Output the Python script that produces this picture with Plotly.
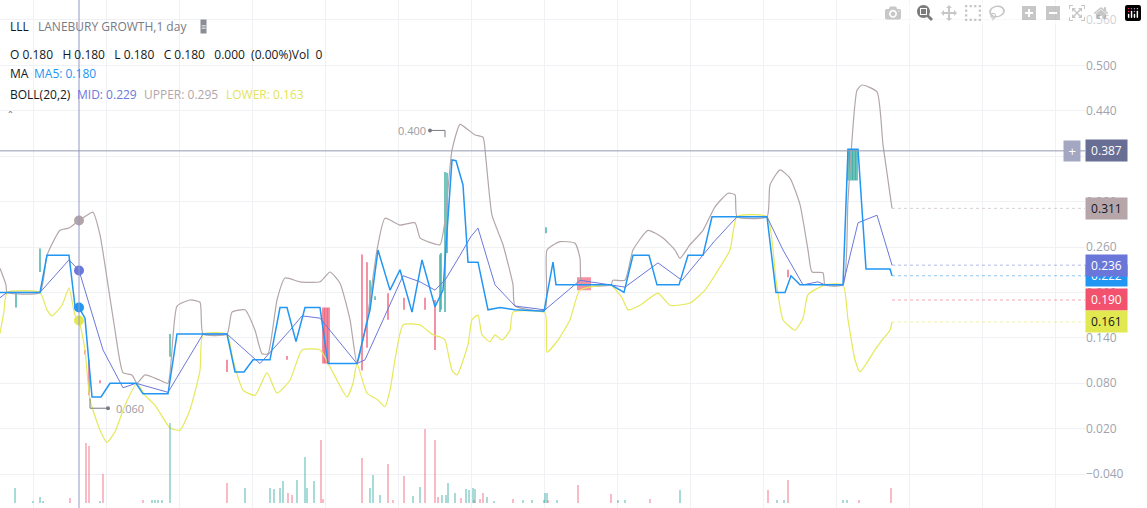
import plotly.graph_objects as go

# bar position (day slot) and indicator values
ma5_t = [0, 7, 40, 47, 69, 75, 79, 85, 92, 101, 110, 136, 143, 168, 177, 203, 227, 235, 244, 253, 270, 280, 287,
         296, 305, 320, 328, 357, 370, 378, 390, 400, 412, 422, 435, 443, 452, 456, 463, 468, 478, 488, 500, 515,
         544, 553, 556, 580, 611, 624, 633, 649, 657, 679, 688, 703, 712, 737, 767, 776, 785, 791, 800, 825, 843,
         848, 858, 866, 890, 892]
ma5_v = [0.200, 0.200, 0.200, 0.249, 0.249, 0.182, 0.180, 0.166, 0.062, 0.062, 0.080, 0.080, 0.066, 0.066, 0.145,
         0.145, 0.145, 0.095, 0.095, 0.111, 0.111, 0.180, 0.180, 0.135, 0.180, 0.180, 0.106, 0.106, 0.177, 0.256,
         0.203, 0.230, 0.174, 0.243, 0.181, 0.203, 0.375, 0.374, 0.342, 0.240, 0.240, 0.177, 0.180, 0.177, 0.175,
         0.240, 0.210, 0.210, 0.210, 0.200, 0.249, 0.249, 0.210, 0.210, 0.249, 0.249, 0.300, 0.300, 0.300, 0.200,
         0.200, 0.222, 0.210, 0.210, 0.210, 0.389, 0.389, 0.231, 0.231, 0.222]

mid_t = [0, 7, 40, 69, 79, 85, 103, 123, 136, 168, 203, 227, 250, 260, 290, 302, 320, 357, 365, 385, 403, 420, 435,
         443, 445, 460, 471, 478, 495, 515, 545, 580, 611, 625, 658, 682, 714, 737, 767, 783, 803, 818, 825, 843,
         858, 877, 892]
mid_v = [0.193, 0.200, 0.200, 0.243, 0.229, 0.203, 0.124, 0.074, 0.080, 0.068, 0.145, 0.145, 0.118, 0.106, 0.150,
         0.169, 0.166, 0.106, 0.111, 0.170, 0.222, 0.214, 0.203, 0.214, 0.216, 0.249, 0.274, 0.285, 0.210, 0.182,
         0.177, 0.216, 0.210, 0.207, 0.239, 0.216, 0.267, 0.300, 0.300, 0.256, 0.210, 0.214, 0.210, 0.210, 0.292,
         0.302, 0.236]

upper_t = [0, 6, 7, 40, 47, 60, 69, 79, 87, 93, 100, 105, 115, 123, 132, 137, 145, 160, 168, 177, 190, 200, 203,
           227, 232, 245, 255, 262, 268, 277, 285, 300, 320, 330, 340, 350, 357, 367, 377, 385, 400, 415, 420, 428,
           440, 445, 452, 460, 469, 475, 483, 486, 492, 503, 513, 515, 545, 547, 560, 575, 580, 582, 611, 613, 625,
           633, 648, 663, 675, 680, 690, 703, 715, 728, 735, 737, 767, 770, 780, 790, 800, 808, 812, 823, 825, 843,
           848, 857, 862, 877, 883, 892]
upper_v = [0.232, 0.210, 0.200, 0.200, 0.249, 0.282, 0.285, 0.295, 0.302, 0.306, 0.276, 0.236, 0.150, 0.094, 0.091,
           0.080, 0.091, 0.084, 0.080, 0.182, 0.190, 0.187, 0.145, 0.145, 0.174, 0.177, 0.150, 0.119, 0.119, 0.190,
           0.219, 0.214, 0.214, 0.227, 0.212, 0.164, 0.106, 0.164, 0.256, 0.298, 0.289, 0.292, 0.272, 0.267, 0.263,
           0.295, 0.388, 0.422, 0.414, 0.408, 0.405, 0.375, 0.302, 0.263, 0.210, 0.182, 0.177, 0.256, 0.267, 0.265,
           0.245, 0.210, 0.210, 0.216, 0.216, 0.256, 0.282, 0.272, 0.256, 0.245, 0.263, 0.282, 0.313, 0.331, 0.329,
           0.300, 0.300, 0.342, 0.362, 0.351, 0.316, 0.256, 0.227, 0.226, 0.210, 0.210, 0.322, 0.467, 0.474, 0.465,
           0.395, 0.311]

lower_t = [0, 4, 7, 40, 47, 52, 62, 69, 75, 79, 85, 90, 100, 107, 115, 125, 137, 145, 155, 170, 180, 190, 200, 203,
           227, 233, 243, 255, 267, 277, 290, 302, 320, 333, 347, 353, 357, 367, 378, 385, 390, 403, 420, 433, 440,
           445, 452, 457, 468, 472, 478, 482, 490, 495, 502, 510, 513, 545, 547, 558, 570, 580, 611, 616, 622, 628,
           640, 658, 670, 690, 705, 715, 730, 737, 767, 776, 783, 795, 803, 808, 825, 843, 848, 855, 860, 875, 882,
           890, 892]
lower_v = [0.146, 0.175, 0.200, 0.200, 0.177, 0.169, 0.183, 0.206, 0.170, 0.163, 0.124, 0.058, 0.018, 0.002, 0.016,
           0.051, 0.080, 0.064, 0.051, 0.021, 0.018, 0.045, 0.097, 0.145, 0.145, 0.111, 0.071, 0.064, 0.094, 0.067,
           0.084, 0.124, 0.124, 0.094, 0.062, 0.080, 0.106, 0.067, 0.058, 0.049, 0.071, 0.157, 0.157, 0.144, 0.141,
           0.137, 0.097, 0.091, 0.131, 0.164, 0.170, 0.144, 0.135, 0.144, 0.137, 0.150, 0.174, 0.173, 0.121, 0.137,
           0.164, 0.203, 0.210, 0.203, 0.193, 0.177, 0.183, 0.199, 0.183, 0.186, 0.203, 0.223, 0.256, 0.300, 0.300,
           0.216, 0.164, 0.150, 0.166, 0.197, 0.210, 0.210, 0.164, 0.111, 0.095, 0.124, 0.137, 0.150, 0.161]

# traded bars: slot, high, low, up/down
bar_t = [16, 40, 85, 89, 100, 170, 227, 287, 323, 324.5, 326, 327.5, 329, 362, 367, 370, 375, 388, 404, 425, 435,
         440, 441, 445, 447, 546, 578, 580, 582, 584, 586, 588, 590, 788, 848, 849.5, 851, 852.5, 854, 855.5, 857]
bar_hi = [0.199, 0.258, 0.124, 0.111, 0.084, 0.145, 0.111, 0.116, 0.180, 0.180, 0.180, 0.180, 0.180, 0.250, 0.240,
          0.216, 0.195, 0.199, 0.193, 0.193, 0.190, 0.250, 0.252, 0.359, 0.358, 0.286, 0.220, 0.220, 0.220, 0.220,
          0.220, 0.220, 0.220, 0.230, 0.389, 0.389, 0.389, 0.389, 0.389, 0.389, 0.389]
bar_lo = [0.180, 0.227, 0.118, 0.064, 0.080, 0.115, 0.095, 0.111, 0.106, 0.106, 0.106, 0.106, 0.106, 0.097, 0.127,
          0.177, 0.190, 0.164, 0.177, 0.177, 0.124, 0.174, 0.177, 0.174, 0.252, 0.278, 0.203, 0.203, 0.203, 0.203,
          0.203, 0.203, 0.203, 0.220, 0.348, 0.348, 0.348, 0.348, 0.348, 0.348, 0.348]
bar_up = [1, 1, 0, 0, 0, 1, 0, 0, 0, 0, 0, 0, 0, 0, 0, 1, 1, 0, 0, 0, 0, 1, 1, 1, 1, 1, 0, 0, 0, 0, 0, 0, 0, 0, 1, 1,
          1, 1, 1, 1, 1]

vol_t = [15, 33, 40, 43, 70, 86, 89, 100, 103, 143, 152, 155, 158, 162, 170, 227, 245, 270, 274, 280, 283, 288, 292,
         297, 305, 307, 314, 321, 323, 362, 370, 373, 380, 388, 393, 404, 413, 420, 425, 435, 438, 442, 446, 448,
         455, 461, 466, 469, 473, 474, 475, 480, 483, 487, 494, 513, 523, 532, 544, 545, 547, 548, 557, 578, 611,
         618, 625, 650, 680, 768, 777, 784, 788, 843, 847, 859, 891]
vol_v = [15, 2, 6, 2, 5, 60, 57, 2, 29, 3, 3, 3, 3, 3, 80, 20, 15, 15, 14, 15, 22, 10, 8, 23, 46, 15, 22, 63, 4, 45,
         15, 28, 8, 39, 3, 27, 7, 16, 74, 63, 6, 8, 8, 20, 10, 5, 14, 13, 15, 3, 14, 4, 10, 6, 2, 4, 3, 3, 3, 10, 10,
         3, 3, 18, 9, 3, 3, 4, 13, 13, 3, 3, 23, 3, 3, 3, 15]
vol_up = [1, 1, 1, 1, 0, 0, 0, 1, 0, 0, 1, 1, 1, 1, 1, 0, 1, 1, 1, 1, 1, 0, 0, 1, 1, 1, 1, 0, 0, 0, 1, 1, 1, 0, 0, 0,
          1, 1, 0, 0, 0, 1, 1, 1, 1, 0, 1, 1, 1, 0, 1, 0, 0, 1, 1, 0, 1, 1, 1, 1, 1, 0, 1, 0, 0, 1, 1, 0, 1, 0, 1, 1,
          0, 1, 1, 0, 0]

cross_t = 79
cross_price = 0.387
right_labels = [(0.387, "#686e94", "white"), (0.311, "#b6a6a9", "#131722"), (0.222, "#2196f3", "white"),
                (0.236, "#6a77d9", "white"), (0.190, "#f2526e", "white"), (0.161, "#e2e84f", "#131722")]

GREEN = "#26a69a"
RED = "#ef5370"
W, H, R = 1147, 508, 62
PW = W - R

fig = go.Figure()

fig.add_trace(go.Bar(x=vol_t, y=vol_v, yaxis="y2", width=1.6,
                     marker_color=["rgba(38,166,154,0.4)" if u else "rgba(239,83,112,0.4)" for u in vol_up],
                     marker_line_width=0))

fig.add_shape(type="line", x0=cross_t, x1=cross_t, y0=0, y1=1, yref="paper", line=dict(color="#9598c2", width=1))
fig.add_shape(type="line", x0=0, x1=1, xref="paper", y0=cross_price, y1=cross_price,
              line=dict(color="#9598b0", width=1))

for up in (1, 0):
    xs, ys = [], []
    for t, hi, lo, u in zip(bar_t, bar_hi, bar_lo, bar_up):
        if u == up:
            xs += [t, t, None]
            ys += [hi, lo, None]
    fig.add_trace(go.Scatter(x=xs, y=ys, mode="lines", line=dict(color=GREEN if up else RED, width=1.5),
                             opacity=0.85))

fig.add_trace(go.Scatter(x=upper_t, y=upper_v, mode="lines", line=dict(color="#b3a6a9", width=1.2,
                                                                          shape="spline", smoothing=0.5)))
fig.add_trace(go.Scatter(x=lower_t, y=lower_v, mode="lines", line=dict(color="#e6e85a", width=1.2,
                                                                          shape="spline", smoothing=0.5)))
fig.add_trace(go.Scatter(x=mid_t, y=mid_v, mode="lines", line=dict(color="#6b78db", width=1)))
fig.add_trace(go.Scatter(x=ma5_t, y=ma5_v, mode="lines", line=dict(color="#2196f3", width=1.5)))

# hover dots on the crosshair
fig.add_trace(go.Scatter(x=[cross_t] * 4, y=[0.295, 0.229, 0.180, 0.163], mode="markers",
                         marker=dict(size=10, color=["#b3a4a8", "#6b78db", "#2196f3", "#e3e84f"])))

# dotted guides to the last values
for v, bg, fc in right_labels[1:]:
    fig.add_trace(go.Scatter(x=[892, PW], y=[v, v], mode="lines", line=dict(color=bg, width=1, dash="dot"),
                             opacity=0.5))

# high / low markers
fig.add_trace(go.Scatter(x=[430, 445, 445], y=[0.414, 0.414, 0.405], mode="lines", line=dict(color="#787b86", width=1)))
fig.add_trace(go.Scatter(x=[430], y=[0.414], mode="markers", marker=dict(size=4, color="#787b86")))
fig.add_trace(go.Scatter(x=[90, 90, 108], y=[0.060, 0.047, 0.047], mode="lines", line=dict(color="#787b86", width=1)))
fig.add_trace(go.Scatter(x=[108], y=[0.047], mode="markers", marker=dict(size=4, color="#787b86")))

ann = [
    dict(x=396, y=0.414, text="0.400", xanchor="left", font=dict(color="#9a9ca4", size=11)),
    dict(x=114, y=0.047, text="0.060", xanchor="left", font=dict(color="#9a9ca4", size=11)),
]
for v, bg, fc in right_labels:
    ann.append(dict(x=1, xref="paper", y=v, text=f" {v:.3f} ", xanchor="left", xshift=0, bgcolor=bg,
                    font=dict(color=fc, size=12), borderpad=2))
ann.append(dict(x=1, xref="paper", y=cross_price, text=" + ", xanchor="right", xshift=-4, bgcolor="#a3a7c2",
                font=dict(color="white", size=13), borderpad=1))


def txt(px, py, s, color="#131722"):
    ann.append(dict(x=px / PW, y=1 - py / H, xref="paper", yref="paper", text=s, xanchor="left",
                    yanchor="middle", showarrow=False, font=dict(color=color, size=12)))


txt(8, 26, "LLL")
txt(36, 26, "LANEBURY GROWTH,1 day", "#787b86")
ann.append(dict(x=200 / PW, y=1 - 26 / H, xref="paper", yref="paper", text="≡", bgcolor="#8a8d96",
                yanchor="middle", font=dict(color="white", size=9), showarrow=False, borderpad=0))
txt(8, 54, "O 0.180   H 0.180   L 0.180   C 0.180   0.000  (0.00%)Vol  0")
txt(8, 74, "MA")
txt(32, 74, "MA5: 0.180", "#2196f3")
txt(8, 94, "BOLL(20,2)")
txt(75, 94, "MID: 0.229", "#6b78db")
txt(142, 94, "UPPER: 0.295", "#b3a6a9")
txt(224, 94, "LOWER: 0.163", "#e2e45a")
txt(6, 116, "ˆ", "#787b86")
for a in ann:
    a.setdefault("showarrow", False)

fig.update_layout(
    width=W, height=H, margin=dict(l=0, r=R, t=0, b=0, autoexpand=False),
    paper_bgcolor="white", plot_bgcolor="white", showlegend=False,
    font=dict(family="Open Sans", size=12),
    annotations=ann,
    xaxis=dict(range=[0, PW], tick0=33, dtick=73, showticklabels=False, gridcolor="#f0f1f5", zeroline=False),
    yaxis=dict(range=[-0.0848, 0.5863], side="right", tick0=0.02, dtick=0.06, tickformat=".3f",
               gridcolor="#f0f1f5", zeroline=False, tickfont=dict(color="#a0a3ad", size=12)),
    yaxis2=dict(range=[-5, 503], overlaying="y", visible=False),
    bargap=0,
)

fig.write_html("out.html")
with open("out.html") as f:
    page = f.read()
with open("out.html", "w") as f:
    f.write(page.replace("<body>", '<body style="margin:0">', 1))
